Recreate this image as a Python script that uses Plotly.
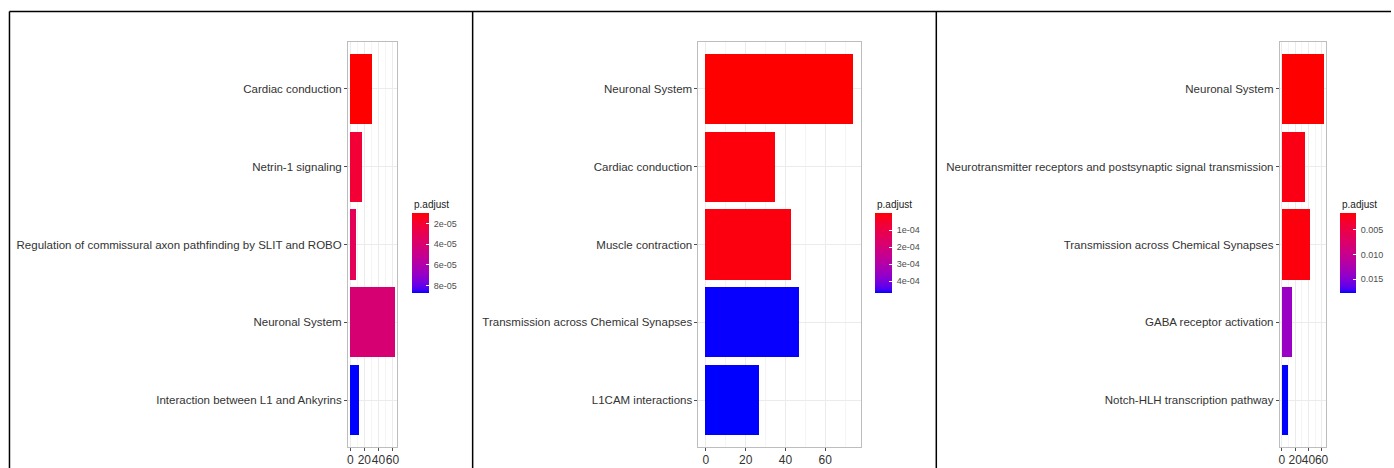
import plotly.graph_objects as go

# ---- data -------------------------------------------------------------
terms_a = ["Cardiac conduction", "Netrin-1 signaling",
           "Regulation of commissural axon pathfinding by SLIT and ROBO",
           "Neuronal System", "Interaction between L1 and Ankyrins"]
count_a = [31, 17, 8, 63, 12]
padj_a = [1.0e-5, 2.1e-5, 3.2e-5, 4.1e-5, 8.7e-5]
ticks_a = [2e-5, 4e-5, 6e-5, 8e-5]
ticklabels_a = ["2e-05", "4e-05", "6e-05", "8e-05"]

terms_b = ["Neuronal System", "Cardiac conduction", "Muscle contraction",
           "Transmission across Chemical Synapses", "L1CAM interactions"]
count_b = [74, 35, 43, 47, 27]
padj_b = [1.0e-7, 1.0e-5, 1.4e-5, 4.68e-4, 4.7e-4]
ticks_b = [1e-4, 2e-4, 3e-4, 4e-4]
ticklabels_b = ["1e-04", "2e-04", "3e-04", "4e-04"]

terms_c = ["Neuronal System",
           "Neurotransmitter receptors and postsynaptic signal transmission",
           "Transmission across Chemical Synapses", "GABA receptor activation",
           "Notch-HLH transcription pathway"]
count_c = [63, 35, 42, 15, 9]
padj_c = [0.0016, 0.0022, 0.0020, 0.0138, 0.0178]
ticks_c = [0.005, 0.010, 0.015]
ticklabels_c = ["0.005", "0.010", "0.015"]

W, H = 1394, 468
FONT = "Liberation Sans"
TEXT = "#333333"


# ---- red -> blue gradient interpolated in CIELAB ----------------------
def _lin(c):
    c = c / 255.0
    return c / 12.92 if c <= 0.04045 else ((c + 0.055) / 1.055) ** 2.4


def _gam(c):
    c = 12.92 * c if c <= 0.0031308 else 1.055 * c ** (1 / 2.4) - 0.055
    return max(0, min(255, round(c * 255)))


WHITE = (0.95047, 1.0, 1.08883)


def rgb_to_lab(rgb):
    r, g, b = (_lin(v) for v in rgb)
    x = 0.4124 * r + 0.3576 * g + 0.1805 * b
    y = 0.2126 * r + 0.7152 * g + 0.0722 * b
    z = 0.0193 * r + 0.1192 * g + 0.9505 * b

    def f(t):
        return t ** (1 / 3) if t > 0.008856 else 7.787 * t + 16 / 116

    fx, fy, fz = f(x / WHITE[0]), f(y / WHITE[1]), f(z / WHITE[2])
    return 116 * fy - 16, 500 * (fx - fy), 200 * (fy - fz)


def lab_to_rgb(lab):
    L, a, bb = lab
    fy = (L + 16) / 116
    fx = fy + a / 500
    fz = fy - bb / 200

    def finv(t):
        return t ** 3 if t ** 3 > 0.008856 else (t - 16 / 116) / 7.787

    x, y, z = finv(fx) * WHITE[0], finv(fy) * WHITE[1], finv(fz) * WHITE[2]
    r = 3.2406 * x - 1.5372 * y - 0.4986 * z
    g = -0.9689 * x + 1.8758 * y + 0.0415 * z
    b = 0.0557 * x - 0.2040 * y + 1.0570 * z
    return "rgb(%d,%d,%d)" % (_gam(r), _gam(g), _gam(b))


lab_red = rgb_to_lab((255, 0, 0))
lab_blue = rgb_to_lab((0, 0, 255))
N = 24
# colour values are negated p.adjust so that the smallest value sits on top
scale = []
for i in range(N + 1):
    t = i / N  # 0 -> largest p (blue), 1 -> smallest p (red)
    lab = tuple(lab_blue[k] + (lab_red[k] - lab_blue[k]) * t for k in range(3))
    scale.append([t, lab_to_rgb(lab)])

panels = [
    (terms_a, count_a, padj_a, ticks_a, ticklabels_a, 348, 397, 412.5, 17),
    (terms_b, count_b, padj_b, ticks_b, ticklabels_b, 699.5, 862, 877, 17),
    (terms_c, count_c, padj_c, ticks_c, ticklabels_c, 1282.5, 1328.5, 1343, 16),
]

PLOT_TOP, PLOT_BOT = 42, 447
BAR_TOP = 213

fig = go.Figure()
for i, (terms, counts, padj, ticks, tlabels, x0, x1, cbx, cbw) in enumerate(panels):
    sfx = "" if i == 0 else str(i + 1)
    fig.add_trace(go.Bar(
        x=counts, y=terms, orientation="h", width=0.9,
        xaxis="x" + sfx, yaxis="y" + sfx,
        marker=dict(
            color=[-p for p in padj], colorscale=scale,
            cmin=-max(padj), cmax=-min(padj), line=dict(width=0),
            showscale=True,
            colorbar=dict(
                x=cbx / W, xanchor="left", xpad=0,
                y=(H - BAR_TOP) / H, yanchor="top", ypad=0,
                len=80, lenmode="pixels", thickness=cbw, thicknessmode="pixels",
                outlinewidth=0, ticks="inside", tickcolor="white", ticklen=3,
                tickvals=[-v for v in ticks], ticktext=[" " + s for s in tlabels],
                tickfont=dict(family=FONT, size=9, color="#4D4D4D"),
            ),
        ),
        hovertemplate="%{y}: %{x}<extra></extra>",
    ))
    xmax = max(counts)
    fig.layout["xaxis" + sfx] = dict(
        domain=[x0 / W, x1 / W], anchor="y" + sfx,
        range=[-0.05 * xmax, 1.05 * xmax],
        tickmode="array", tickvals=[0, 20, 40, 60], tickangle=0,
        showgrid=True, gridcolor="#EBEBEB", gridwidth=1,
        minor=dict(tickvals=[10, 30, 50, 70], showgrid=True,
                   gridcolor="#F5F5F5", gridwidth=1),
        showline=True, linecolor="#BDBDBD", linewidth=1, mirror=True,
        ticks="outside", ticklen=3, tickcolor="#4D4D4D",
        ticklabelstandoff=-1,
        tickfont=dict(family=FONT, size=12, color=TEXT),
        zeroline=False, fixedrange=True,
    )
    fig.layout["yaxis" + sfx] = dict(
        domain=[(H - PLOT_BOT) / H, (H - PLOT_TOP) / H], anchor="x" + sfx,
        type="category", categoryorder="array", categoryarray=terms,
        range=[4.6, -0.6],
        showgrid=True, gridcolor="#EBEBEB", gridwidth=1,
        showline=True, linecolor="#BDBDBD", linewidth=1, mirror=True,
        ticks="outside", ticklen=3, tickcolor="#4D4D4D",
        tickfont=dict(family=FONT, size=11.5, color=TEXT),
        zeroline=False, fixedrange=True,
    )
    fig.add_annotation(
        text="p.adjust", x=cbx / W, y=(H - 197) / H, xref="paper", yref="paper",
        xanchor="left", yanchor="top", showarrow=False,
        font=dict(family=FONT, size=10, color="#222222"),
    )

# outer frame lines
frame = dict(color="black", width=1.5)
fig.add_shape(type="line", xref="paper", yref="paper",
              x0=8.5 / W, x1=1.0, y0=(H - 11.5) / H, y1=(H - 11.5) / H, line=frame)
for xv in (8.5, 473, 938):
    fig.add_shape(type="line", xref="paper", yref="paper",
                  x0=xv / W, x1=xv / W, y0=0, y1=(H - 11.5) / H, line=frame)

fig.update_layout(
    width=W, height=H, margin=dict(l=0, r=0, t=0, b=0),
    paper_bgcolor="white", plot_bgcolor="white",
    showlegend=False, bargap=0,
    font=dict(family=FONT),
)

fig.write_html("out.html")
